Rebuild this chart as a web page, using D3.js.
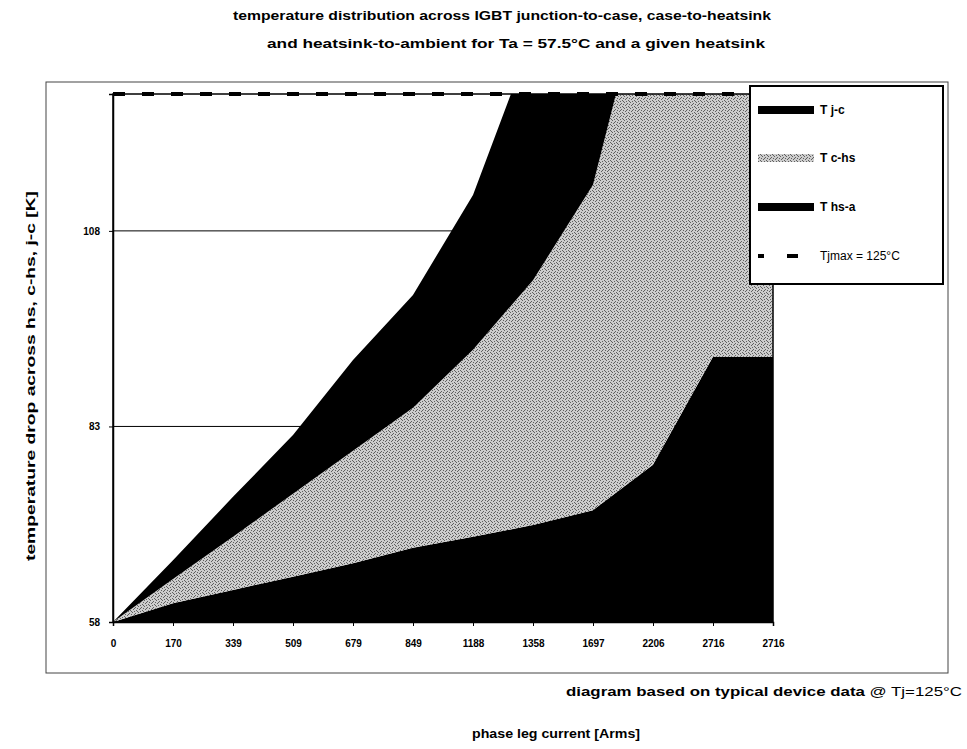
<!DOCTYPE html>
<html>
<head>
<meta charset="utf-8">
<script src="https://cdn.jsdelivr.net/npm/d3@7"></script>
<style>
  html, body { margin: 0; padding: 0; background: #fff; }
  svg { display: block; }
  text { font-family: "Liberation Sans", Arial, sans-serif; fill: #000; }
</style>
</head>
<body>
<svg id="chart" width="967" height="749"></svg>
<script>
// phase leg current [Arms] categories
const categories = ["0", "170", "339", "509", "679", "849", "1188", "1358", "1697", "2206", "2716", "2716"];
// ambient temperature the stack starts from [°C]
const ambient = 57.5;
// temperature drops [K]
const tHsA = [0, 2.4, 4.1, 5.8, 7.5, 9.5, 10.9, 12.4, 14.3, 20.1, 33.9, 33.9];
const tCHs = [0, 3.1, 6.8, 10.6, 14.4, 17.9, 23.9, 31.3, 41.6, 66.1, 78.6, 78.6];
const tJC  = [0, 2.4, 5.1, 7.5, 11.6, 14.4, 19.8, 31.3, 38.0, 48.0, 60.0, 60.0];
// junction limit [°C]
const tjMax = 125;
// value axis
const yTicks = [57.5, 82.5, 107.5];
const seriesNames = ["T j-c", "T c-hs", "T hs-a"];

const svg = d3.select("#chart");
const plot = { left: 113, right: 773, top: 94, bottom: 622 };

const x = d3.scalePoint().domain(d3.range(categories.length)).range([plot.left, plot.right]);
const y = d3.scaleLinear().domain([ambient, tjMax]).range([plot.bottom, plot.top]);

// stippled grey fill for the case-to-heatsink band
const defs = svg.append("defs");
const pat = defs.append("pattern").attr("id", "stipple")
  .attr("patternUnits", "userSpaceOnUse").attr("width", 6).attr("height", 6);
pat.append("rect").attr("width", 6).attr("height", 6).attr("fill", "#cdcdcd");
[[0,0],[3,1],[1,3],[4,4],[2,5],[5,2],[5,5],[2,2]].forEach(([px, py]) =>
  pat.append("rect").attr("x", px).attr("y", py).attr("width", 1).attr("height", 1).attr("fill", "#606060"));

defs.append("clipPath").attr("id", "plotClip").append("rect")
  .attr("x", plot.left).attr("y", plot.top)
  .attr("width", plot.right - plot.left).attr("height", plot.bottom - plot.top);

// outer chart frame
svg.append("rect").attr("x", 46).attr("y", 82).attr("width", 902).attr("height", 591)
  .attr("fill", "none").attr("stroke", "#444").attr("stroke-width", 1);

// gridlines
svg.append("g").selectAll("line").data(yTicks.slice(1)).join("line")
  .attr("x1", plot.left).attr("x2", plot.right)
  .attr("y1", d => y(d)).attr("y2", d => y(d))
  .attr("stroke", "#000").attr("stroke-width", 1);

// stacked areas
const rows = categories.map((c, i) => ({ i, hsa: tHsA[i], chs: tCHs[i], jc: tJC[i] }));
const stack = d3.stack().keys(["hsa", "chs", "jc"])(rows);
const fills = { hsa: "#000", chs: "url(#stipple)", jc: "#000" };
const area = d3.area()
  .x(d => x(d.data.i))
  .y0(d => y(ambient + d[0]))
  .y1(d => y(ambient + d[1]));

svg.append("g").attr("clip-path", "url(#plotClip)")
  .selectAll("path").data(stack).join("path")
  .attr("d", area)
  .attr("fill", d => fills[d.key]);

// plot border
svg.append("rect").attr("x", plot.left).attr("y", plot.top)
  .attr("width", plot.right - plot.left).attr("height", plot.bottom - plot.top)
  .attr("fill", "none").attr("stroke", "#000").attr("stroke-width", 1.5);

// Tjmax line
svg.append("line")
  .attr("x1", plot.left).attr("x2", plot.right)
  .attr("y1", y(tjMax)).attr("y2", y(tjMax))
  .attr("stroke", "#000").attr("stroke-width", 4).attr("stroke-dasharray", "12,17");

// axes
const xAxis = svg.append("g").attr("transform", `translate(0,${plot.bottom})`)
  .call(d3.axisBottom(x).tickSize(4).tickPadding(14).tickFormat(i => categories[i]));
xAxis.select(".domain").attr("stroke-width", 1.5);
xAxis.selectAll("text").style("font-size", "10px").style("font-weight", "bold");

const yAxis = svg.append("g").attr("transform", `translate(${plot.left},0)`)
  .call(d3.axisLeft(y).tickValues(yTicks).tickSize(4).tickPadding(9).tickFormat(d3.format(".0f")));
yAxis.select(".domain").attr("stroke-width", 1.5);
yAxis.selectAll("text").style("font-size", "10px").style("font-weight", "bold");

// titles
svg.append("text").attr("x", 502).attr("y", 20).attr("text-anchor", "middle")
  .style("font-size", "13px").style("font-weight", "bold")
  .attr("textLength", 538).attr("lengthAdjust", "spacingAndGlyphs")
  .text("temperature distribution across IGBT junction-to-case, case-to-heatsink");
svg.append("text").attr("x", 516).attr("y", 48).attr("text-anchor", "middle")
  .style("font-size", "13px").style("font-weight", "bold")
  .attr("textLength", 498).attr("lengthAdjust", "spacingAndGlyphs")
  .text("and heatsink-to-ambient for Ta = 57.5°C and a given heatsink");

svg.append("text").attr("transform", "translate(35,376) rotate(-90)").attr("text-anchor", "middle")
  .style("font-size", "13px").style("font-weight", "bold")
  .attr("textLength", 370).attr("lengthAdjust", "spacingAndGlyphs")
  .text("temperature drop across hs, c-hs, j-c [K]");

const note = svg.append("text").attr("x", 962).attr("y", 696).attr("text-anchor", "end")
  .style("font-size", "13px")
  .attr("textLength", 396).attr("lengthAdjust", "spacingAndGlyphs");
note.append("tspan").style("font-weight", "bold").text("diagram based on typical device data ");
note.append("tspan").text("@ Tj=125°C");

svg.append("text").attr("x", 556).attr("y", 738).attr("text-anchor", "middle")
  .style("font-size", "13px").style("font-weight", "bold")
  .attr("textLength", 168).attr("lengthAdjust", "spacingAndGlyphs")
  .text("phase leg current [Arms]");

// legend
const lg = svg.append("g");
lg.append("rect").attr("x", 750).attr("y", 86).attr("width", 193).attr("height", 198)
  .attr("fill", "#fff").attr("stroke", "#000").attr("stroke-width", 2);
const legendItems = [
  { name: seriesNames[0], fill: "#000", y: 110 },
  { name: seriesNames[1], fill: "url(#stipple)", y: 158 },
  { name: seriesNames[2], fill: "#000", y: 207 }
];
legendItems.forEach(it => {
  lg.append("rect").attr("x", 758).attr("y", it.y - 4).attr("width", 56).attr("height", 8).attr("fill", it.fill);
  lg.append("text").attr("x", 820).attr("y", it.y + 4).style("font-size", "12px").style("font-weight", "bold").text(it.name);
});
lg.append("line").attr("x1", 758).attr("x2", 814).attr("y1", 256).attr("y2", 256)
  .attr("stroke", "#000").attr("stroke-width", 4).attr("stroke-dasharray", "6,23");
lg.append("line").attr("x1", 787).attr("x2", 798).attr("y1", 256).attr("y2", 256)
  .attr("stroke", "#000").attr("stroke-width", 4);
lg.append("text").attr("x", 820).attr("y", 260).style("font-size", "12px")
  .text("Tjmax = 125°C");
</script>
</body>
</html>
